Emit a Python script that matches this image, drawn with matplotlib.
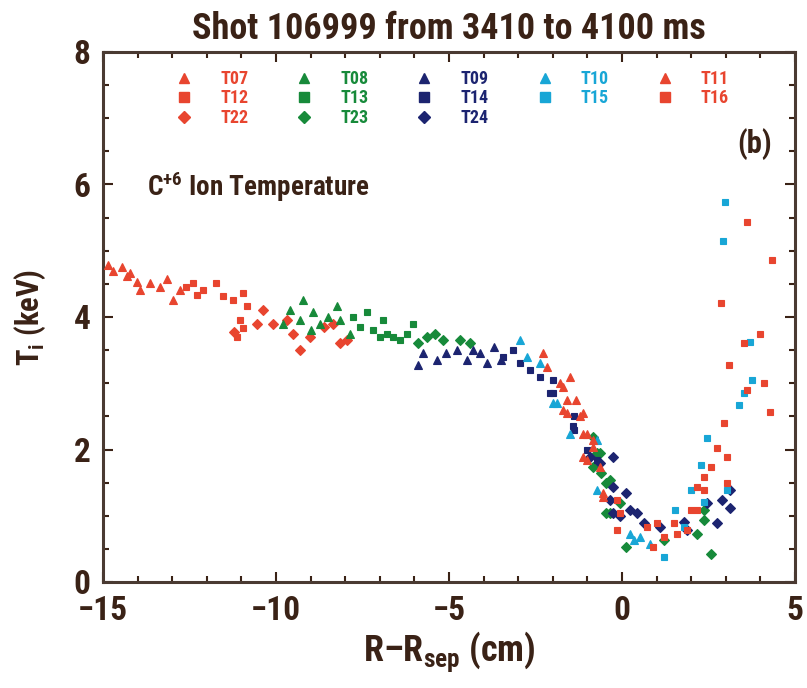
import matplotlib
matplotlib.use("Agg")
import matplotlib.pyplot as plt
from matplotlib.ticker import MultipleLocator
from matplotlib.lines import Line2D

plt.rcParams['font.family'] = ['Roboto Condensed', 'DejaVu Sans']
plt.rcParams['font.weight'] = 'bold'
plt.rcParams['axes.titleweight'] = 'bold'
plt.rcParams['axes.labelweight'] = 'bold'
plt.rcParams['mathtext.fontset'] = 'custom'
plt.rcParams['mathtext.rm'] = 'Roboto Condensed:bold'
plt.rcParams['mathtext.it'] = 'Roboto Condensed:bold'
plt.rcParams['mathtext.bf'] = 'Roboto Condensed:bold'

INK = '#3a2216'
RED = '#e8452f'
GREEN = '#178a3a'
NAVY = '#1c2470'
CYAN = '#18a6d6'

# CER chords: R - Rsep (cm) and C+6 ion temperature (keV)
t07_x = [-14.85, -14.7, -14.46, -14.3, -14.22, -14.03, -13.93, -13.64, -13.35, -13.16, -12.97, -12.78]
t07_y = [4.78, 4.70, 4.76, 4.62, 4.66, 4.53, 4.41, 4.51, 4.46, 4.58, 4.26, 4.41]
t12_x = [-12.6, -12.39, -12.29, -12.1, -11.72, -11.52, -11.24, -10.95, -10.85, -11.04, -10.95, -11.14]
t12_y = [4.45, 4.51, 4.33, 4.40, 4.51, 4.31, 4.26, 4.36, 4.16, 3.95, 3.83, 3.70]
t22_x = [-10.56, -10.37, -10.08, -9.69, -9.50, -9.02, -8.34, -8.15, -7.96, -11.2, -9.3, -8.6]
t22_y = [3.90, 4.10, 3.90, 3.95, 3.75, 3.70, 3.90, 3.60, 3.65, 3.78, 3.50, 3.85]

t08_x = [-9.6, -9.31, -9.21, -8.92, -8.73, -8.25, -8.15, -7.86, -9.8, -9.0, -8.5]
t08_y = [4.10, 3.95, 4.26, 4.08, 3.90, 4.16, 3.95, 3.75, 3.90, 3.80, 4.00]
t13_x = [-7.77, -7.57, -7.38, -7.19, -6.90, -6.61, -6.80, -6.42, -6.03, -7.0, -6.2]
t13_y = [4.00, 3.85, 4.08, 3.80, 3.95, 3.70, 3.75, 3.65, 3.90, 3.70, 3.75]
t23_x = [-5.65, -5.17, -4.68, -4.39, -5.9, -5.4, -0.83, -0.64, -0.83, -0.45, -0.35,
         -0.73, -0.35, -0.06, -0.45, 0.13, 1.20, 2.17, 2.37, 2.37, 2.56, -0.60]
t23_y = [3.70, 3.65, 3.65, 3.60, 3.60, 3.75, 2.19, 1.94, 1.74, 1.49, 1.04,
         1.94, 1.54, 1.19, 1.04, 0.53, 0.63, 0.73, 0.94, 1.09, 0.43, 1.64]

t09_x = [-5.74, -5.36, -4.78, -4.49, -4.10, -3.71, -3.91, -5.1, -4.3, -3.5, -5.9]
t09_y = [3.45, 3.35, 3.50, 3.35, 3.45, 3.55, 3.30, 3.45, 3.50, 3.35, 3.28]
t14_x = [-3.43, -3.14, -2.95, -2.66, -2.37, -2.08, -1.98, -1.98, -1.41, -1.02, -0.73, -1.40, -1.40]
t14_y = [3.40, 3.50, 3.30, 3.20, 3.10, 2.85, 3.05, 2.85, 2.35, 1.99, 1.84, 2.50, 2.29]
t24_x = [-0.35, -0.25, -0.92, -0.25, -0.64, -0.25, 0.13, 0.24, 0.43, -0.06,
         0.63, 1.11, 1.78, 1.88, 2.75, 2.88, 3.12, 3.12, 2.46]
t24_y = [1.24, 1.04, 1.89, 1.89, 1.79, 1.44, 1.34, 1.09, 1.04, 0.99,
         0.89, 0.83, 0.91, 0.78, 0.89, 1.24, 1.39, 1.11, 1.19]

t10_x = [-2.95, -2.76, -2.37, -1.98, -1.50, -1.89, -0.73, -0.73, 0.24, 0.34, 0.53, 0.82]
t10_y = [3.65, 3.40, 3.30, 2.70, 2.24, 2.70, 2.14, 1.39, 0.73, 0.63, 0.68, 0.58]
t15_x = [1.20, 1.54, 1.78, 1.98, 2.27, 2.46, 2.37, 3.04, 3.38, 3.52, 3.75, 3.70, 2.93, 2.98]
t15_y = [0.38, 1.09, 0.83, 1.39, 1.77, 2.17, 1.21, 1.39, 2.67, 2.85, 3.05, 3.63, 5.14, 5.74]

t11_x = [-2.28, -2.18, -1.80, -1.50, -1.60, -1.32, -1.60, -1.21, -1.12, -0.83,
         -1.02, -0.54, -1.70, -1.70, -1.12, -1.02, -1.12, -0.83, -0.64, -0.54]
t11_y = [3.45, 3.25, 3.00, 3.10, 2.75, 2.75, 2.55, 2.50, 2.24, 2.14,
         1.84, 1.29, 2.95, 2.60, 2.55, 2.24, 1.89, 2.04, 1.74, 1.34]
t16_x = [-0.15, -0.06, -0.15, 0.72, 1.01, 1.20, 1.49, 1.59, 0.91, 1.88,
         1.98, 2.17, 2.37, 2.37, 2.56, 2.75, 2.95, 3.04, 3.04, 3.09,
         2.85, 3.52, 3.62, 3.62, 4.00, 4.09, 4.33, 4.28, 2.17]
t16_y = [1.24, 1.04, 0.78, 0.83, 0.89, 0.68, 0.89, 0.73, 0.53, 0.78,
         1.09, 1.44, 1.39, 1.59, 1.74, 2.02, 2.40, 1.89, 1.49, 3.28,
         4.21, 3.60, 2.90, 5.44, 3.75, 3.00, 4.86, 2.57, 1.09]

chords = [
    ('T07', t07_x, t07_y, RED, '^'),
    ('T12', t12_x, t12_y, RED, 's'),
    ('T22', t22_x, t22_y, RED, 'D'),
    ('T08', t08_x, t08_y, GREEN, '^'),
    ('T13', t13_x, t13_y, GREEN, 's'),
    ('T23', t23_x, t23_y, GREEN, 'D'),
    ('T09', t09_x, t09_y, NAVY, '^'),
    ('T14', t14_x, t14_y, NAVY, 's'),
    ('T24', t24_x, t24_y, NAVY, 'D'),
    ('T10', t10_x, t10_y, CYAN, '^'),
    ('T15', t15_x, t15_y, CYAN, 's'),
    ('T11', t11_x, t11_y, RED, '^'),
    ('T16', t16_x, t16_y, RED, 's'),
]
marker_size = {'^': 6.3, 's': 5.0, 'D': 4.8}

fig = plt.figure(figsize=(8.07, 6.88), dpi=100)
ax = fig.add_axes([103 / 807, 1 - 582 / 688, 692 / 807, 530 / 688])

handles, labels = [], []
for name, xs, ys, col, mk in chords:
    ax.plot(xs, ys, linestyle='none', marker=mk, ms=marker_size[mk],
            mfc=col, mec=col, mew=0.8, zorder=3)
    handles.append(Line2D([], [], linestyle='none', marker=mk,
                          ms=marker_size[mk] + 1.5, mfc=col, mec=col))
    labels.append(name)

ax.set_xlim(-15, 5)
ax.set_ylim(0, 8)
ax.xaxis.set_major_locator(MultipleLocator(5))
ax.xaxis.set_minor_locator(MultipleLocator(1))
ax.yaxis.set_major_locator(MultipleLocator(2))
ax.yaxis.set_minor_locator(MultipleLocator(0.5))
ax.tick_params(which='both', direction='in', top=True, right=True,
               color=INK, width=1.5, labelcolor=INK, labelsize=24, pad=9)
ax.tick_params(which='major', length=7)
ax.tick_params(which='minor', length=4)
for sp in ax.spines.values():
    sp.set_color('#4a3a32')
    sp.set_linewidth(2.2)

ax.set_xlabel('R\u2013R$_{\\rm sep}$ (cm)', fontsize=26, color=INK, labelpad=2)
ax.set_ylabel('T$_{\\rm i}$ (keV)', fontsize=22, color=INK, labelpad=18)
ax.set_title('Shot 106999 from 3410 to 4100 ms', fontsize=26, color=INK, pad=9)

ax.text(0.064, 0.745, 'C$^{+6}$ Ion Temperature', transform=ax.transAxes,
        fontsize=19.5, color=INK, ha='left', va='center')
ax.text(0.967, 0.826, '(b)', transform=ax.transAxes,
        fontsize=22, color=INK, ha='right', va='center')

leg = ax.legend(handles, labels, ncol=5, loc='upper left',
                bbox_to_anchor=(0.104, 0.966), frameon=False, fontsize=13,
                handlelength=1.0, handletextpad=1.5, columnspacing=2.6,
                labelspacing=0.08, borderaxespad=0, borderpad=0)
for txt, (_, _, _, col, _) in zip(leg.get_texts(), chords):
    txt.set_color(col)

fig.savefig('out.png', dpi=100)
